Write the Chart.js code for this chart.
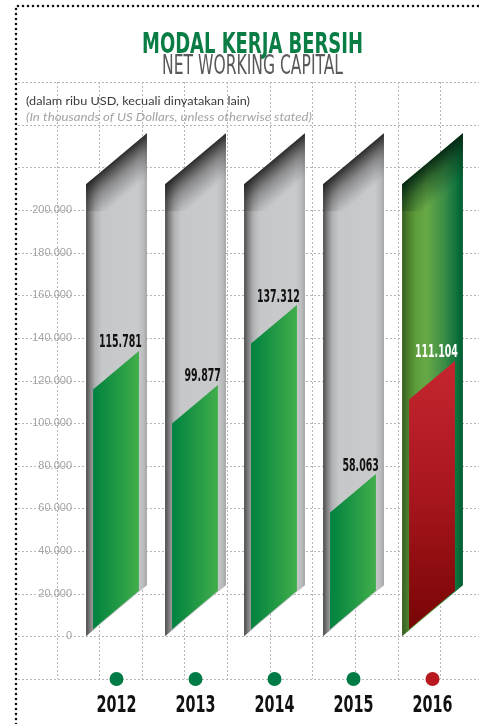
<!DOCTYPE html>
<html>
<head>
<meta charset="utf-8">
<script src="https://cdn.jsdelivr.net/npm/chart.js@4.4.1/dist/chart.umd.min.js"></script>
<style>
  html, body { margin: 0; padding: 0; background: #fff; }
  #wrap { width: 479px; height: 724px; position: relative; }
</style>
</head>
<body>
<div id="wrap"><canvas id="chart" width="479" height="724"></canvas></div>
<script>
// data
const years = ["2012", "2013", "2014", "2015", "2016"];
const values = [115781, 99877, 137312, 58063, 111104];
const valueLabels = ["115.781", "99.877", "137.312", "58.063", "111.104"];
const trackTop = [212000, 212000, 212000, 212000, 212000];
const markerRow = [-20000, -20000, -20000, -20000, -20000];
const markerColors = ["#007b46", "#007b46", "#007b46", "#007b46", "#b8191f"];
const highlight = [false, false, false, false, true];

const NARROW = "'Liberation Sans Narrow', 'DejaVu Sans Condensed', 'Liberation Sans', sans-serif";

function fitText(ctx, text, x, y, sx, align) {
  ctx.save();
  ctx.translate(x, y);
  ctx.scale(sx, 1);
  ctx.textAlign = align;
  ctx.fillText(text, 0, 0);
  ctx.restore();
}

function fitWidth(ctx, text, x, y, width, align) {
  const w = ctx.measureText(text).width;
  fitText(ctx, text, x, y, width / w, align);
}

function addStops(g, stops) {
  stops.forEach(s => g.addColorStop(s[0], s[1]));
  return g;
}

// graph paper, border and titles
const paper = {
  id: "paper",
  beforeDraw(chart) {
    const { ctx, scales: { y } } = chart;
    const step = y.getPixelForValue(0) - y.getPixelForValue(20000);
    const top = y.getPixelForValue(260000);
    const bottom = y.getPixelForValue(-20000);
    ctx.save();
    ctx.strokeStyle = "#b5b5b5";
    ctx.lineWidth = 1;
    ctx.setLineDash([2, 2]);
    for (let v = -20000; v <= 260000; v += 20000) {
      const py = Math.round(y.getPixelForValue(v)) + 0.5;
      ctx.beginPath(); ctx.moveTo(18, py); ctx.lineTo(chart.width, py); ctx.stroke();
    }
    for (let px = 56.5; px < chart.width; px += step) {
      const xx = Math.round(px) + 0.5;
      ctx.beginPath(); ctx.moveTo(xx, top); ctx.lineTo(xx, bottom); ctx.stroke();
    }
    // dotted frame
    ctx.strokeStyle = "#111";
    ctx.lineWidth = 2.6;
    ctx.lineCap = "round";
    ctx.setLineDash([0, 5]);
    ctx.beginPath();
    ctx.moveTo(16, chart.height); ctx.lineTo(16, 6); ctx.lineTo(chart.width, 6);
    ctx.stroke();
    ctx.setLineDash([]);

    ctx.textBaseline = "alphabetic";
    ctx.fillStyle = "#0a7d45";
    ctx.font = "bold 29px " + NARROW;
    fitWidth(ctx, "MODAL KERJA BERSIH", 252.5, 53, 221, "center");
    ctx.fillStyle = "#58595b";
    ctx.font = "26px " + NARROW;
    fitWidth(ctx, "NET WORKING CAPITAL", 252.5, 74, 181, "center");

    ctx.fillStyle = "#3a3a3a";
    ctx.font = "12px Lato, 'Liberation Sans', sans-serif";
    fitWidth(ctx, "(dalam ribu USD, kecuali dinyatakan lain)", 26, 105, 224, "left");
    ctx.fillStyle = "#a3a3a3";
    ctx.font = "italic 12px Lato, 'Liberation Sans', sans-serif";
    fitWidth(ctx, "(In thousands of US Dollars, unless otherwise stated)", 26, 121, 286, "left");
    ctx.restore();
  }
};

// slanted 3d bars drawn on the bar elements, plus the year labels
const bars3d = {
  id: "bars3d",
  afterDatasetsDraw(chart) {
    const { ctx, scales: { x, y } } = chart;
    const meta = chart.getDatasetMeta(0);
    const y0 = y.getPixelForValue(0);
    const s = 0.84;
    ctx.save();
    ctx.font = "bold 18px " + NARROW;
    const labelScale = 43 / ctx.measureText("115.781").width;
    ctx.font = "bold 23px " + NARROW;
    const yearScale = 40 / ctx.measureText("2012").width;
    ctx.restore();

    meta.data.forEach((bar, i) => {
      const L = bar.x - bar.width / 2, R = bar.x + bar.width / 2, w = R - L;
      const yT = y.getPixelForValue(trackTop[i]);
      const hi = highlight[i];

      ctx.save();
      ctx.beginPath();
      ctx.moveTo(L, yT); ctx.lineTo(R, yT - s * w);
      ctx.lineTo(R, y0 - s * w); ctx.lineTo(L, y0);
      ctx.closePath();
      ctx.clip();
      const body = ctx.createLinearGradient(L, 0, R, 0);
      addStops(body, hi
        ? [[0, "#355f1f"], [0.1, "#4b7f2c"], [0.22, "#5d9c3c"], [0.4, "#68a946"], [0.7, "#3a8c47"], [0.92, "#0a6f3c"], [1, "#005a30"]]
        : [[0, "#4a4a4a"], [0.06, "#7a7a7a"], [0.15, "#b0b1b3"], [0.26, "#c6c7c9"], [0.85, "#c9cacc"], [0.95, "#b9babc"], [1, "#a0a1a3"]]);
      ctx.fillStyle = body;
      ctx.fillRect(L - 1, yT - s * w - 2, w + 2, y0 - yT + s * w + 4);
      const len = Math.hypot(s * w, w);
      const nx = s * w / len, ny = w / len;
      const cx = (L + R) / 2, cy = yT - s * w / 2;
      const shade = ctx.createLinearGradient(cx, cy, cx + nx * 34, cy + ny * 34);
      addStops(shade, hi
        ? [[0, "rgba(4,36,18,0.95)"], [0.45, "rgba(10,50,25,0.45)"], [1, "rgba(10,50,25,0)"]]
        : [[0, "rgba(35,35,35,0.95)"], [0.45, "rgba(60,60,60,0.45)"], [1, "rgba(80,80,80,0)"]]);
      ctx.fillStyle = shade;
      ctx.fillRect(L - 1, yT - s * w - 2, w + 2, 80);
      ctx.restore();

      // front face
      const gL = L + 7, gR = R - 8, gw = gR - gL;
      const yV = y.getPixelForValue(values[i]);
      const yB = y0 - 7;
      ctx.save();
      ctx.beginPath();
      ctx.moveTo(gL, yV); ctx.lineTo(gR, yV - s * gw);
      ctx.lineTo(gR, yB - s * gw); ctx.lineTo(gL, yB);
      ctx.closePath();
      let face;
      if (hi) {
        face = ctx.createLinearGradient(0, yV - s * gw, 0, yB);
        addStops(face, [[0, "#c5262f"], [0.5, "#a8161f"], [1, "#780505"]]);
      } else {
        face = ctx.createLinearGradient(gL, 0, gR, 0);
        addStops(face, [[0, "#00823f"], [1, "#41ae4b"]]);
      }
      ctx.fillStyle = face;
      ctx.fill();

      ctx.font = "bold 18px " + NARROW;
      ctx.fillStyle = hi ? "#ffffff" : "#111111";
      ctx.textBaseline = "alphabetic";
      fitText(ctx, valueLabels[i], gR + 3, yV - 42, labelScale, "right");

      // year under the marker
      ctx.font = "bold 23px " + NARROW;
      ctx.fillStyle = "#111111";
      fitText(ctx, years[i], x.getPixelForValue(i), x.bottom - 12, yearScale, "center");
      ctx.restore();
    });
  }
};

function thousands(v) {
  return String(v).replace(/\B(?=(\d{3})+(?!\d))/g, ".");
}

new Chart(document.getElementById("chart"), {
  type: "bar",
  data: {
    labels: years,
    datasets: [
      {
        type: "bar",
        data: values,
        backgroundColor: "rgba(0,0,0,0)",
        borderWidth: 0,
        barPercentage: 0.77,
        categoryPercentage: 1
      },
      {
        type: "line",
        data: markerRow,
        showLine: false,
        clip: false,
        pointRadius: 7,
        pointHoverRadius: 7,
        pointBorderWidth: 0,
        pointBackgroundColor: markerColors
      }
    ]
  },
  options: {
    responsive: false,
    animation: false,
    layout: { padding: { top: 82, left: 0, right: 0, bottom: 0 } },
    plugins: {
      legend: { display: false },
      tooltip: { enabled: false }
    },
    scales: {
      x: {
        grid: { display: false, drawTicks: false },
        border: { display: false },
        ticks: { display: false },
        afterFit(scale) { scale.height = 45; }
      },
      y: {
        min: -20000,
        max: 260000,
        grid: { display: false, drawTicks: false },
        border: { display: false },
        ticks: {
          stepSize: 20000,
          padding: 5,
          color: "#a2a4a7",
          font: { family: "'Liberation Sans', sans-serif", size: 11 },
          callback: v => (v < 0 || v > 200000) ? "" : thousands(v)
        },
        afterFit(scale) { scale.width = 77; }
      }
    }
  },
  plugins: [paper, bars3d]
});
</script>
</body>
</html>
